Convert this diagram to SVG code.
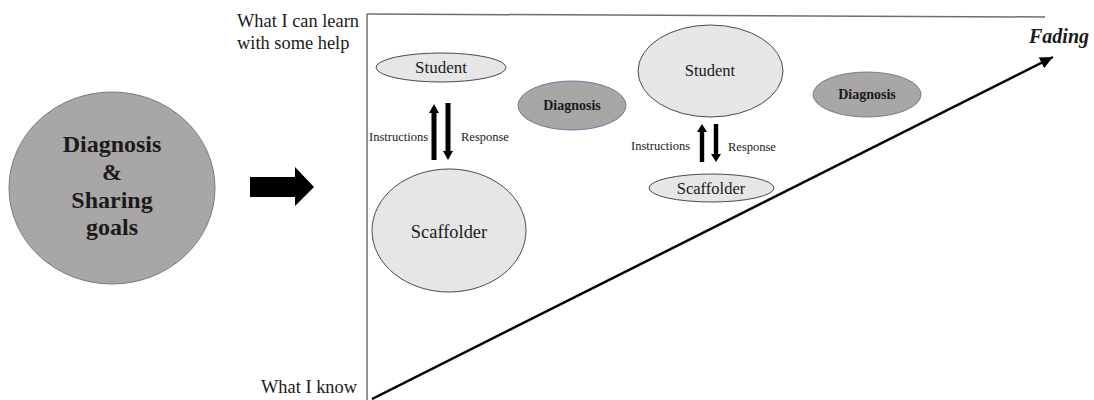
<svg xmlns="http://www.w3.org/2000/svg" width="1094" height="400" viewBox="0 0 1094 400">
  <defs>
    <style>
      .t { font-family: 'Liberation Serif', 'Times New Roman', Times, 'DejaVu Serif', serif; fill: #1a1a1a; }
      .light { fill: #e6e6e6; stroke: #4a4a4a; stroke-width: 1; }
      .dark { fill: #a8a6a6; stroke: #6d7d9c; stroke-width: 1; }
      .axis { stroke: #6e6e6e; stroke-width: 1.5; fill: none; }
      .blk { fill: #000; }
    </style>
    <marker id="ah" markerUnits="userSpaceOnUse" markerWidth="14" markerHeight="12" refX="13" refY="6" orient="auto">
      <path d="M0,0 L13,6 L0,12 Z" fill="#000"/>
    </marker>
  </defs>
  <rect width="1094" height="400" fill="#fff"/>

  <g id="axes">
    <line class="axis" x1="367" y1="14" x2="367" y2="400"/>
    <line class="axis" x1="367" y1="14" x2="1045" y2="17"/>
    <text class="t" x="237" y="27" font-size="18.4">What I can learn</text>
    <text class="t" x="237" y="49" font-size="18.4">with some help</text>
    <text class="t" x="261" y="393" font-size="18.4">What I know</text>
    <text class="t" x="1029" y="43" font-size="20" font-weight="bold" font-style="italic">Fading</text>
  </g>

  <g id="goals">
    <ellipse class="dark" cx="112" cy="188" rx="103" ry="96"/>
    <text class="t" x="112" y="152" font-size="24" font-weight="bold" text-anchor="middle">Diagnosis</text>
    <text class="t" x="112" y="180" font-size="24" font-weight="bold" text-anchor="middle">&amp;</text>
    <text class="t" x="112" y="208" font-size="24" font-weight="bold" text-anchor="middle">Sharing</text>
    <text class="t" x="112" y="235" font-size="24" font-weight="bold" text-anchor="middle">goals</text>
  </g>

  <g id="student1">
    <ellipse class="light" cx="441" cy="67.5" rx="65" ry="14.5"/>
    <text class="t" x="441" y="73" font-size="17" text-anchor="middle">Student</text>
  </g>
  <g id="scaffolder1">
    <ellipse class="light" cx="449" cy="230.5" rx="77" ry="61.5"/>
    <text class="t" x="449" y="238" font-size="18.4" text-anchor="middle">Scaffolder</text>
  </g>
  <g id="diagnosis1">
    <ellipse class="dark" cx="572" cy="105.5" rx="54" ry="24.5"/>
    <text class="t" x="572" y="110" font-size="14" font-weight="bold" text-anchor="middle">Diagnosis</text>
  </g>
  <g id="student2">
    <ellipse class="light" cx="710.5" cy="71" rx="72.5" ry="46"/>
    <text class="t" x="710" y="76" font-size="16.5" text-anchor="middle">Student</text>
  </g>
  <g id="scaffolder2">
    <ellipse class="light" cx="711.5" cy="188" rx="62.5" ry="14"/>
    <text class="t" x="711" y="194" font-size="16.5" text-anchor="middle">Scaffolder</text>
  </g>
  <g id="diagnosis2">
    <ellipse class="dark" cx="867" cy="94.5" rx="54" ry="22.5"/>
    <text class="t" x="867" y="99" font-size="14" font-weight="bold" text-anchor="middle">Diagnosis</text>
  </g>

  <g id="connectors">
    <polygon class="blk" points="250,177 295,177 295,167 314,187 295,206 295,197 250,197"/>
    <line x1="372" y1="399" x2="1053" y2="57" stroke="#000" stroke-width="2.5" marker-end="url(#ah)"/>
    <polygon class="blk" points="431.5,160 431.5,113 429,113 434,104 439,113 436.5,113 436.5,160"/>
    <polygon class="blk" points="445.5,103 450.5,103 450.5,151 453,151 448,160 443,151 445.5,151"/>
    <text class="t" x="369" y="141" font-size="12.5">Instructions</text>
    <text class="t" x="461" y="141" font-size="12.5">Response</text>
    <polygon class="blk" points="699.8,162 699.8,132 697,132 702,124 707,132 704.2,132 704.2,162"/>
    <polygon class="blk" points="713.8,124 718.2,124 718.2,154 721,154 716,162 711,154 713.8,154"/>
    <text class="t" x="631" y="150" font-size="12.5">Instructions</text>
    <text class="t" x="728" y="151" font-size="12.5">Response</text>
  </g>
</svg>
